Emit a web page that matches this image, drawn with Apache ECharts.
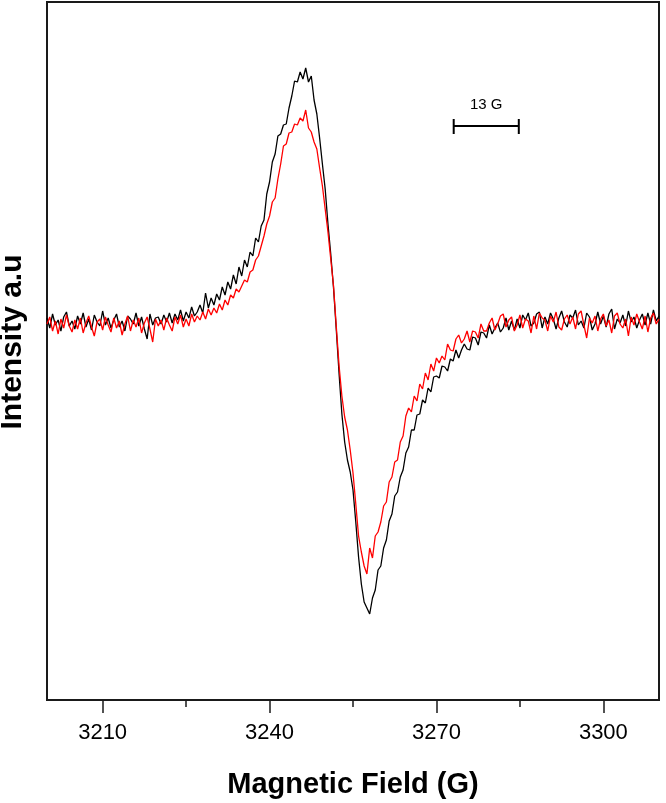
<!DOCTYPE html>
<html>
<head>
<meta charset="utf-8">
<script src="https://cdn.jsdelivr.net/npm/echarts@6/dist/echarts.min.js"></script>
<style>
  html, body { margin: 0; padding: 0; background: #fff; }
  #chart { width: 666px; height: 803px; }
</style>
</head>
<body>
<div id="chart"></div>
<script>
// field sweep (G): first point and step of the recorded spectrum
const fieldStart = 3200;
const fieldStep = 0.5;

// sample 1 (black), arbitrary units, one value per 0.5 G
const blackSignal = [
  4, -6, 8, -3, 2, -9, 5, 10, -4, 1,
  -7, 6, -2, 9, -5, 3, -8, 7, 0, -4,
  11, -3, 4, -6, 2, 8, -5, 1, -9, 6,
  3, -2, 9, -4, 5, -7, -17, 8, -3, 4,
  5, -2, 7, 0, 9, -1, 8, 2, 12, 1,
  10, 4, 15, 6, 10, 17, 9, 29, 14, 24,
  17, 28, 22, 35, 27, 40, 33, 47, 38, 55,
  46, 62, 55, 70, 66, 84, 80, 96, 102, 128,
  140, 160, 168, 186, 188, 197, 198, 214, 226, 241,
  240, 250, 243, 254, 240, 246, 222, 208, 184, 158,
  133, 98, 68, 34, -8, -52, -92, -120, -138, -150,
  -168, -200, -235, -262, -280, -286, -292, -276, -268, -248,
  -244, -226, -218, -199, -192, -174, -170, -155, -148, -131,
  -125, -108, -108, -93, -92, -78, -81, -66, -70, -55,
  -54, -56, -44, -45, -49, -37, -39, -28, -36, -28,
  -22, -27, -28, -15, -16, -23, -10, -11, -16, -3,
  -12, -6, -1, -10, -6, 4, -8, 1, -8, 3,
  -6, 7, 2, 9, -4, -1, 8, 10, -6, 5,
  -2, 9, 3, -7, 4, 11, 0, -5, 7, 4,
  12, -3, 1, -6, 9, 5, -8, -2, 10, -2,
  6, -5, 8, 13, -7, 3, -1, 7, -4, 11,
  0, 5, -6, 2, 8, -3, 9, -2, 12, 1,
  6
];

// sample 2 (red)
const redSignal = [
  -2, 5, -9, 1, -12, 3, -6, 7, -4, -10,
  2, -7, 4, -11, -1, 6, -5, -14, 0, 3,
  -8, 5, -3, -10, 4, -6, 1, -13, -2, 6,
  -9, 2, -5, 4, -11, -1, 5, -7, -20, 3,
  -4, 2, -8, 4, -3, -9, 5, -2, 7, -5,
  3, -4, 8, 0, 6, 2, 10, 3, 13, 7,
  14, 9, 18, 12, 22, 17, 27, 24, 33, 30,
  36, 42, 40, 50, 52, 62, 66, 76, 86, 98,
  106, 120, 124, 143, 158, 176, 178, 189, 190, 198,
  197, 204, 201, 212, 194, 190, 180, 173, 154, 136,
  113, 90, 63, 36, -5, -44, -74, -95, -108, -128,
  -151, -182, -214, -230, -244, -252, -226, -236, -214, -210,
  -200, -184, -180, -160, -155, -140, -138, -120, -114, -94,
  -86, -90, -74, -79, -62, -67, -51, -58, -42, -49,
  -36, -41, -34, -38, -22, -28, -29, -17, -13, -21,
  -17, -9, -20, -9, -10, -16, -2, -9, -9, -1,
  4, -8, -2, 6, 8, -5, 2, 5, -9, -3,
  7, -6, 3, 1, -11, 6, -7, 9, 4, 2,
  -9, 6, 0, 10, -5, -8, 3, 7, -2, 5,
  -7, 8, 11, -3, -16, 4, -1, 6, -9, 3,
  8, -4, 2, -11, 6, 9, -2, -6, 3, -14,
  5, -3, 8, 0, -7, 6, -10, 4, 9, -2,
  3
];

const majorTicks = [3210, 3240, 3270, 3300];
const minorTicks = [3225, 3255, 3285];

// 13 G scale bar: [from, to, level]
const scaleBar = [[3273.1, 3284.8, 196]];
const scaleBarLabel = '13 G';

function toPairs(values) {
  return values.map((v, i) => [fieldStart + i * fieldStep, v]);
}

const chart = echarts.init(document.getElementById('chart'));

const font = '"Liberation Sans", Arial, sans-serif';

const option = {
  animation: false,
  backgroundColor: '#fff',
  grid: {
    left: 47,
    right: 7,
    top: 2,
    bottom: 103,
    outerBoundsMode: 'none',
    containLabel: false,
    show: true,
    borderColor: '#1a1a1a',
    borderWidth: 2,
  },
  xAxis: [
    {
      type: 'value',
      min: 3200,
      max: 3310,
      name: 'Magnetic Field (G)',
      nameLocation: 'middle',
      nameGap: 70,
      nameTextStyle: { fontFamily: font, fontWeight: 'bold', fontSize: 29, color: '#000' },
      axisLine: { show: true, onZero: false, lineStyle: { color: '#1a1a1a', width: 2 } },
      axisTick: { show: true, customValues: majorTicks, length: 13, lineStyle: { color: '#1a1a1a', width: 1.5 } },
      axisLabel: {
        customValues: majorTicks,
        formatter: (v) => String(v),
        fontFamily: font,
        fontSize: 22,
        color: '#000',
        margin: 22,
      },
      splitLine: { show: false },
    },
    {
      type: 'value',
      min: 3200,
      max: 3310,
      position: 'bottom',
      axisLine: { show: false, onZero: false },
      axisTick: { show: true, customValues: minorTicks, length: 7, lineStyle: { color: '#1a1a1a', width: 1.5 } },
      axisLabel: { show: false },
      splitLine: { show: false },
    },
  ],
  yAxis: {
    type: 'value',
    min: -378,
    max: 320,
    name: 'Intensity a.u',
    nameLocation: 'middle',
    nameGap: 19,
    nameTextStyle: { fontFamily: font, fontWeight: 'bold', fontSize: 30, color: '#000', padding: [0, 0, 0, 18] },
    axisLine: { show: true, onZero: false, lineStyle: { color: '#1a1a1a', width: 2 } },
    axisTick: { show: false },
    axisLabel: { show: false },
    splitLine: { show: false },
  },
  series: [
    {
      name: 'black',
      type: 'line',
      data: toPairs(blackSignal),
      showSymbol: false,
      lineStyle: { color: '#000', width: 1.3 },
    },
    {
      name: 'red',
      type: 'line',
      data: toPairs(redSignal),
      showSymbol: false,
      lineStyle: { color: '#ff0000', width: 1.3 },
    },
    {
      name: 'scale',
      type: 'custom',
      data: scaleBar,
      renderItem: function (params, api) {
        const a = api.coord([api.value(0), api.value(2)]);
        const b = api.coord([api.value(1), api.value(2)]);
        const style = { stroke: '#000', lineWidth: 2 };
        return {
          type: 'group',
          children: [
            { type: 'line', shape: { x1: a[0], y1: a[1], x2: b[0], y2: b[1] }, style: style },
            { type: 'line', shape: { x1: a[0], y1: a[1] - 7, x2: a[0], y2: a[1] + 8 }, style: style },
            { type: 'line', shape: { x1: b[0], y1: b[1] - 7, x2: b[0], y2: b[1] + 8 }, style: style },
            {
              type: 'text',
              style: {
                x: (a[0] + b[0]) / 2,
                y: a[1] - 21,
                text: scaleBarLabel,
                fill: '#000',
                font: '15px ' + font,
                align: 'center',
                verticalAlign: 'middle',
              },
            },
          ],
        };
      },
    },
  ],
};

chart.setOption(option);
</script>
</body>
</html>
